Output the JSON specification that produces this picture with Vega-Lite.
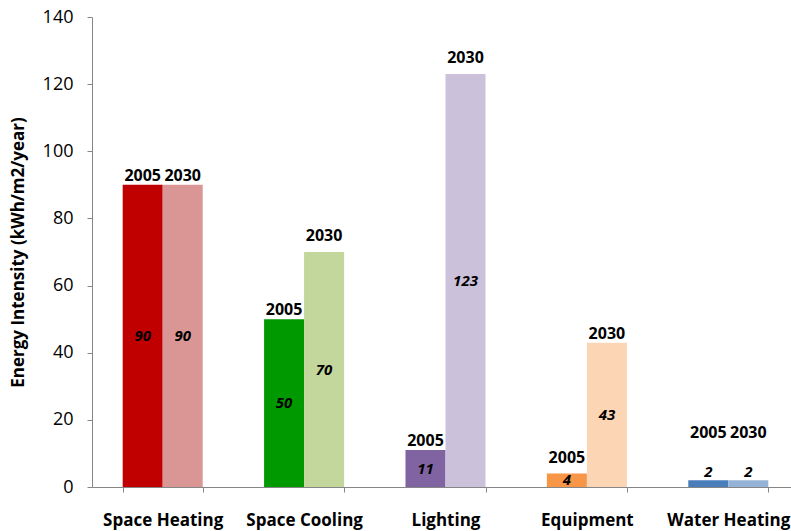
{
  "$schema": "https://vega.github.io/schema/vega-lite/v6.json",
  "autosize": {"type": "none"},
  "width": 699,
  "height": 470,
  "padding": {"left": 92, "top": 17, "right": 0, "bottom": 44},
  "background": "white",
  "config": {
    "view": {"stroke": null},
    "font": "Open Sans",
    "axis": {"grid": false, "domainColor": "#868686", "tickColor": "#868686", "labelColor": "#000000", "titleColor": "#000000", "labelFont": "Open Sans", "titleFont": "Open Sans"}
  },
  "data": {
    "values": [
      {"category": "Space Heating", "year": "2005", "value": 90},
      {"category": "Space Heating", "year": "2030", "value": 90},
      {"category": "Space Cooling", "year": "2005", "value": 50},
      {"category": "Space Cooling", "year": "2030", "value": 70},
      {"category": "Lighting", "year": "2005", "value": 11},
      {"category": "Lighting", "year": "2030", "value": 123},
      {"category": "Equipment", "year": "2005", "value": 4},
      {"category": "Equipment", "year": "2030", "value": 43},
      {"category": "Water Heating", "year": "2005", "value": 2},
      {"category": "Water Heating", "year": "2030", "value": 2}
    ]
  },
  "transform": [
    {"calculate": "datum.category + ' ' + datum.year", "as": "key"},
    {"calculate": "datum.value / 2", "as": "mid"}
  ],
  "encoding": {
    "x": {
      "field": "category", "type": "nominal", "sort": null,
      "scale": {"range": [0, 707], "paddingInner": 0.434, "paddingOuter": 0.217},
      "axis": {"title": null, "labelAngle": 0, "labelFontSize": 17, "labelFontWeight": "bold", "labelPadding": 20, "tickSize": 5, "tickBand": "extent", "labelFlush": false}
    },
    "xOffset": {"field": "year", "type": "nominal", "sort": null}
  },
  "layer": [
    {
      "mark": {"type": "bar"},
      "encoding": {
        "y": {
          "field": "value", "type": "quantitative",
          "scale": {"domain": [0, 140], "nice": false},
          "axis": {"title": "Energy Intensity (kWh/m2/year)", "titleFontSize": 17, "titleFontWeight": "bold", "titlePadding": 15, "values": [0, 20, 40, 60, 80, 100, 120, 140], "labelFontSize": 18, "labelPadding": 14, "tickSize": 5}
        },
        "color": {
          "field": "key", "type": "nominal", "legend": null,
          "scale": {
            "domain": ["Space Heating 2005", "Space Heating 2030", "Space Cooling 2005", "Space Cooling 2030", "Lighting 2005", "Lighting 2030", "Equipment 2005", "Equipment 2030", "Water Heating 2005", "Water Heating 2030"],
            "range": ["#C00000", "#D99694", "#009900", "#C3D69B", "#8064A2", "#CCC1DA", "#F79646", "#FCD5B5", "#4A7EBB", "#95B3D7"]
          }
        }
      }
    },
    {
      "transform": [{"filter": "datum.category == 'Space Heating' || datum.key == 'Space Cooling 2005' || datum.key == 'Lighting 2005' || datum.key == 'Equipment 2030'"}],
      "mark": {"type": "text", "baseline": "alphabetic", "dy": -4, "fontSize": 16, "fontWeight": "bold", "color": "#000000"},
      "encoding": {
        "y": {"field": "value", "type": "quantitative"},
        "text": {"field": "year"}
      }
    },
    {
      "transform": [{"filter": "datum.key == 'Space Cooling 2030' || datum.key == 'Lighting 2030' || datum.key == 'Equipment 2005'"}],
      "mark": {"type": "text", "baseline": "alphabetic", "dy": -11, "fontSize": 16, "fontWeight": "bold", "color": "#000000"},
      "encoding": {
        "y": {"field": "value", "type": "quantitative"},
        "text": {"field": "year"}
      }
    },
    {
      "transform": [{"filter": "datum.category == 'Water Heating'"}],
      "mark": {"type": "text", "baseline": "alphabetic", "dy": -42, "fontSize": 16, "fontWeight": "bold", "color": "#000000"},
      "encoding": {
        "y": {"field": "value", "type": "quantitative"},
        "text": {"field": "year"}
      }
    },
    {
      "transform": [{"filter": "datum.category != 'Water Heating'"}],
      "mark": {"type": "text", "baseline": "middle", "fontSize": 15, "fontWeight": "bold", "fontStyle": "italic", "color": "#000000"},
      "encoding": {
        "y": {"field": "mid", "type": "quantitative"},
        "text": {"field": "value", "type": "quantitative"}
      }
    },
    {
      "transform": [{"filter": "datum.category == 'Water Heating'"}],
      "mark": {"type": "text", "baseline": "middle", "dy": -12, "fontSize": 15, "fontWeight": "bold", "fontStyle": "italic", "color": "#000000"},
      "encoding": {
        "y": {"field": "mid", "type": "quantitative"},
        "text": {"field": "value", "type": "quantitative"}
      }
    }
  ]
}
